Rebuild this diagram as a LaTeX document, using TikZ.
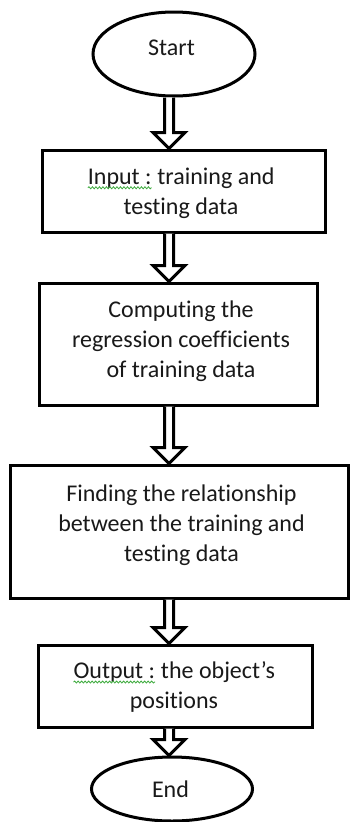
\documentclass[tikz,border=0pt]{standalone}
\usepackage{fontspec}
\setmainfont{Carlito}[Ligatures=CommonOff]
\usetikzlibrary{shapes.geometric,calc,decorations.pathmorphing}
\definecolor{spell}{RGB}{60,170,60}
\definecolor{ink}{RGB}{25,25,25}
\newcommand{\squig}[1]{\tikz[baseline=(sq.base),x=1pt,y=1pt]{\node[shape=rectangle,draw=none,inner sep=0pt,outer sep=0pt,minimum width=0pt,minimum height=0pt,text width=,align=left](sq){#1};\draw[draw=spell,line width=0.8pt,decorate,decoration={snake,amplitude=1pt,segment length=3.5pt}]([yshift=-3.5pt]sq.base west)--([yshift=-3.5pt]sq.base east);}}
\tikzset{
  stepbox/.style={draw=black,line width=3pt,fill=white,minimum width=#1},
  term/.style={ellipse,draw=black,line width=3pt,fill=white,inner sep=0pt},
  txt/.style={font=\fontsize{24}{30}\selectfont,text=ink,align=center,inner sep=0pt},
  harr/.style={draw=black,line width=3pt,fill=white,line join=miter}
}
\newcommand{\harrow}[2]{%
  \draw[harr] ($(ax |- #1.south)+(-4.5,0)$) -- ($(ax |- #2.north)+(-4.5,-16)$) -- ($(ax |- #2.north)+(-16,-16)$) -- (ax |- #2.north) -- ($(ax |- #2.north)+(16,-16)$) -- ($(ax |- #2.north)+(4.5,-16)$) -- ($(ax |- #1.south)+(4.5,0)$);}
\begin{document}
\begin{tikzpicture}[x=1pt,y=-1pt]
\useasboundingbox (0,0) rectangle (351,822);
\coordinate (ax) at (169,0);
\node[term,minimum width=162pt,minimum height=84pt] (start) at (174,54) {};
\node[stepbox=283pt,minimum height=82pt] (b1) at (183.5,191) {};
\node[stepbox=278pt,minimum height=122pt] (b2) at (178,344) {};
\node[stepbox=338pt,minimum height=133pt] (b3) at (179.5,531.5) {};
\node[stepbox=274pt,minimum height=82pt] (b4) at (175,686) {};
\node[term,minimum width=161pt,minimum height=64pt] (end) at (172,789) {};
\harrow{start}{b1}
\harrow{b1}{b2}
\harrow{b2}{b3}
\harrow{b3}{b4}
\harrow{b4}{end}
\node[txt] (ts) at (171.5,48) {Start};
\node[txt] (t1) at (181,193) {\squig{Input :} training and\\testing data};
\node[txt] (t2) at (181,341) {Computing the\\regression coefficients\\of training data};
\node[txt] (t3) at (181.5,525) {Finding the relationship\\between the training and\\testing data};
\node[txt] (t4) at (174,687) {\squig{Output :} the object’s\\positions};
\node[txt] (te) at (170.5,789) {End};
\end{tikzpicture}
\end{document}
